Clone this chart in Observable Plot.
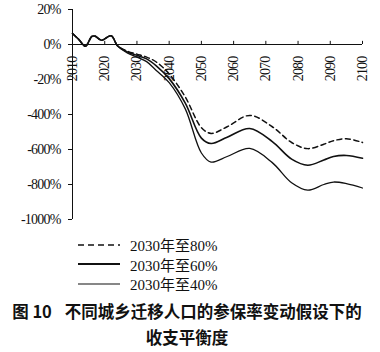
<!DOCTYPE html>
<html>
<head>
<meta charset="utf-8">
<script src="https://cdn.jsdelivr.net/npm/d3@7"></script>
<script src="https://cdn.jsdelivr.net/npm/@observablehq/plot@0.6"></script>
<style>
  html, body { margin: 0; padding: 0; background: #fff; }
  #wrap { position: relative; width: 380px; height: 352px; overflow: hidden; }
  #legend { position: absolute; left: 78px; top: 235px; font-family: "Liberation Serif", "Noto Sans CJK SC", serif; font-size: 15px; color: #111; }
  .row { display: flex; align-items: center; height: 19.5px; }
  .row svg { margin-right: 10px; }
  #caption { position: absolute; left: 0; top: 298px; width: 374px; text-align: center; font-family: "Noto Sans CJK SC", sans-serif; font-weight: bold; font-size: 16.5px; line-height: 26px; color: #111; white-space: nowrap; }
  #caption .fig { margin-right: 13px; }
</style>
</head>
<body>
<div id="wrap">
  <div id="chart"></div>
  <div id="legend"></div>
  <div id="caption"><span class="fig">图 10</span>不同城乡迁移人口的参保率变动假设下的<br>收支平衡度</div>
</div>
<script>
// Shared early segment (all three scenarios coincide)
const sharedYears  = [2010, 2012, 2014, 2016, 2017, 2019, 2022, 2024];
const sharedValues = [63, 28, -10, 46, 48, 24, 50, -8];

// Diverging segment
const tailYears = [2027, 2030, 2033, 2036, 2040, 2045, 2050, 2053, 2058, 2065, 2072, 2078, 2083, 2088, 2091, 2095, 2100];
const series80 = [-38, -55, -72, -100, -168, -300, -475, -508, -470, -405, -470, -560, -595, -570, -550, -538, -560];
const series60 = [-42, -62, -82, -122, -195, -335, -535, -566, -530, -480, -555, -655, -690, -660, -640, -634, -650];
const series40 = [-48, -72, -98, -148, -218, -368, -620, -672, -640, -594, -675, -790, -832, -800, -786, -795, -820];

const seriesNames = ["2030年至80%", "2030年至60%", "2030年至40%"];

const yTicks = [200, 0, -200, -400, -600, -800, -1000];
const yTickLabels = ["20%", "0%", "-20%", "-400%", "-600%", "-800%", "-1000%"];
const xTicks = [2010, 2020, 2030, 2040, 2050, 2060, 2070, 2080, 2090, 2100];

function build(name, tail) {
  const rows = sharedYears.map((y, i) => ({series: name, year: y, value: sharedValues[i]}));
  tailYears.forEach((y, i) => rows.push({series: name, year: y, value: tail[i]}));
  return rows;
}
const d80 = build(seriesNames[0], series80);
const d60 = build(seriesNames[1], series60);
const d40 = build(seriesNames[2], series40);

const chart = Plot.plot({
  width: 380,
  height: 228,
  marginLeft: 72,
  marginRight: 18,
  marginTop: 9,
  marginBottom: 9,
  style: {fontFamily: "Liberation Serif, serif", fontSize: "14px", letterSpacing: "-0.8px", color: "#111", background: "#fff"},
  x: {domain: [2010, 2100], axis: null},
  y: {domain: [-1000, 200], axis: null},
  marks: [
    Plot.axisY({ticks: yTicks, tickFormat: d => yTickLabels[yTicks.indexOf(d)], tickSize: 4, tickPadding: 8, label: null}),
    Plot.ruleX([2010], {stroke: "#111", strokeWidth: 1}),
    Plot.ruleY([0], {stroke: "#111", strokeWidth: 1}),
    Plot.ruleX(xTicks, {x: d => d, y1: 0, y2: 18, stroke: "#111"}),
    Plot.text(xTicks, {x: d => d, y: 0, text: d => String(d), rotate: -90, textAnchor: "end", dy: 12, fill: "#111"}),
    Plot.line(d80, {x: "year", y: "value", curve: "catmull-rom", stroke: "#111", strokeWidth: 1.5, strokeDasharray: "5,3.5"}),
    Plot.line(d60, {x: "year", y: "value", curve: "catmull-rom", stroke: "#111", strokeWidth: 1.6}),
    Plot.line(d40, {x: "year", y: "value", curve: "catmull-rom", stroke: "#111", strokeWidth: 1.3})
  ]
});
document.getElementById("chart").appendChild(chart);

// Legend
const legendStyles = [
  {dash: "6,4", w: 1.5},
  {dash: null, w: 2},
  {dash: null, w: 1.2}
];
const legend = document.getElementById("legend");
seriesNames.forEach((name, i) => {
  const row = document.createElement("div");
  row.className = "row";
  const s = legendStyles[i];
  row.innerHTML = `<svg width="42" height="10"><line x1="0" y1="5" x2="42" y2="5" stroke="#111" stroke-width="${s.w}" ${s.dash ? `stroke-dasharray="${s.dash}"` : ""}/></svg><span>${name}</span>`;
  legend.appendChild(row);
});
</script>
</body>
</html>
